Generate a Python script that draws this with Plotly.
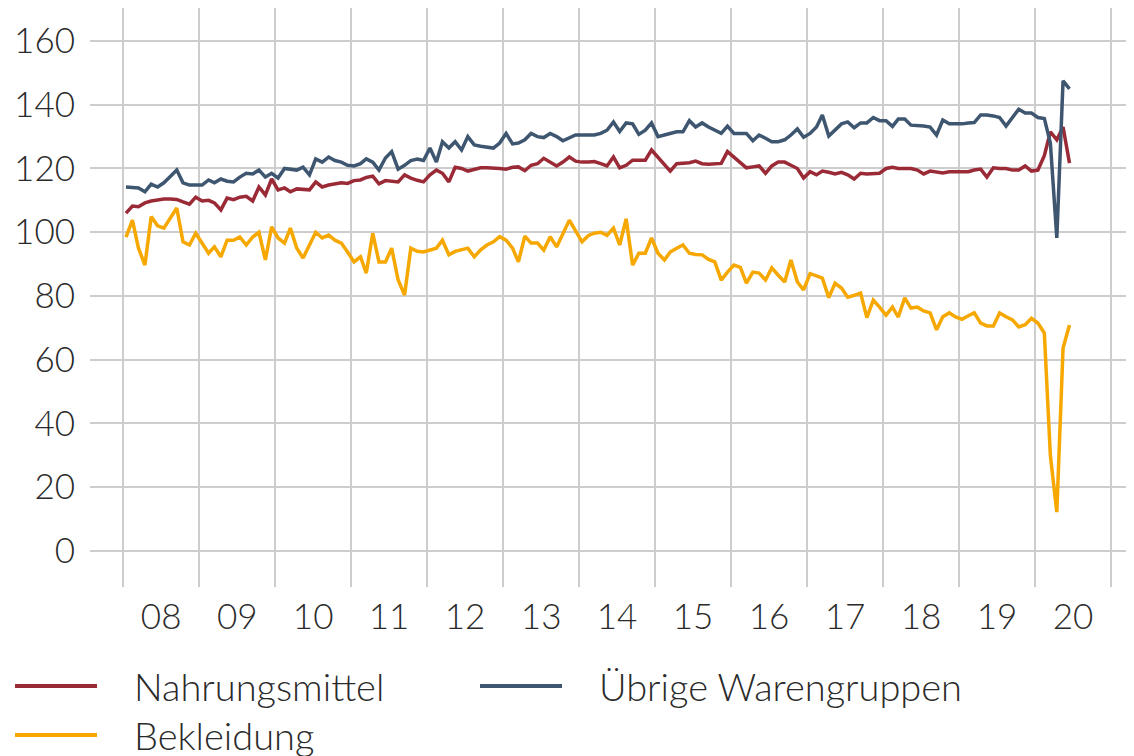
import plotly.graph_objects as go
import pandas as pd

# Monthly index values, Jan 2008 - Jun 2020
nahrungsmittel = [
    106, 108.2, 108, 109.2, 109.8, 110.2, 110.4, 110.4, 110.3, 109.5, 108.8, 111,
    109.8, 110, 109.2, 107, 110.7, 110.2, 111, 111.3, 109.8, 114.2, 111.7, 116.7,
    113.3, 113.9, 112.7, 113.6, 113.5, 113.3, 115.8, 114.2, 114.8, 115.2, 115.5, 115.3,
    116.2, 116.4, 117.2, 117.6, 115.2, 116.2, 116, 115.8, 118, 117, 116.3, 115.8,
    118, 119.5, 118.5, 115.8, 120.4, 120, 119.2, 119.8, 120.2, 120.2, 120.2, 120,
    119.8, 120.4, 120.5, 119.3, 121, 121.5, 123.2, 122, 120.8, 122, 123.6, 122.3,
    122, 122, 122.2, 121.5, 120.8, 123.6, 120.2, 121, 122.6, 122.6, 122.6, 125.8,
    123.5, 121, 119.2, 121.5, 121.7, 121.8, 122.3, 121.5, 121.3, 121.5, 121.6, 125.3,
    123.5, 121.6, 120.2, 120.5, 120.8, 118.5, 120.8, 122, 122, 121, 120, 117,
    119, 118, 119.2, 118.8, 118.3, 118.8, 118, 116.7, 118.5, 118.3, 118.3, 118.5,
    120, 120.4, 120, 120, 120, 119.5, 118.3, 119.2, 118.8, 118.6, 119, 119,
    119, 119, 119.5, 119.8, 117.3, 120.2, 120, 120, 119.5, 119.5, 120.8, 119.2,
    119.5, 124, 131.5, 129, 133, 121.7,
]
uebrige = [
    114.2, 114.0, 113.9, 112.7, 115.1, 114.2, 115.5, 117.5, 119.5, 115.5, 114.8, 114.8,
    114.8, 116.4, 115.5, 116.7, 116, 115.8, 117.3, 118.5, 118.3, 119.5, 117.3, 118.5,
    117, 120, 119.8, 119.5, 120.4, 118, 123, 122, 123.6, 122.5, 122, 121,
    120.8, 121.5, 123, 122, 119.5, 123.3, 125.3, 119.8, 121, 122.5, 123, 122.5,
    126.4, 122, 128.4, 126.4, 128.4, 125.8, 130, 127.4, 127, 126.7, 126.4, 128,
    131, 127.7, 128, 129, 131, 130, 129.7, 131, 130, 128.7, 129.5, 130.5,
    130.5, 130.5, 130.5, 131, 132, 134.6, 131.6, 134.3, 134, 130.7, 132, 134.3,
    130, 130.5, 131, 131.5, 131.5, 135, 133, 134.3, 133, 132, 131, 133.3,
    131, 131, 131, 128.7, 130.5, 129.5, 128.4, 128.4, 129, 130.5, 132.4, 129.8,
    131, 133, 136.8, 130.2, 132, 134, 134.6, 132.8, 134.3, 134.3, 136, 135,
    135, 133.2, 135.5, 135.5, 133.6, 133.5, 133.3, 133, 130.5, 135.2, 134, 134,
    134, 134.3, 134.4, 136.8, 136.8, 136.5, 136, 133.3, 136, 138.6, 137.4, 137.4,
    136, 135.7, 128, 98.2, 147.5, 145,
]
bekleidung = [
    98.5, 103.8, 95, 89.7, 104.9, 102, 101.3, 104.5, 107.6, 97, 96, 99.7,
    96.5, 93.4, 95.4, 92.3, 97.5, 97.5, 98.5, 96, 98.5, 100, 91.3, 101.7,
    98.2, 96.6, 101.3, 95, 91.9, 96, 100, 98.2, 99.1, 97.5, 96.6, 93.8,
    90.7, 92.3, 87.2, 99.7, 90.7, 90.7, 95, 85, 80.3, 95, 94, 93.8,
    94.4, 95, 97.5, 92.9, 94, 94.4, 95, 92.3, 94.5, 96, 97, 98.6,
    97.5, 95, 90.7, 98.8, 96.6, 96.6, 94.4, 98.6, 95.4, 99.5, 103.8, 100.4,
    97, 99, 99.7, 100, 99, 101.3, 96, 104.2, 89.7, 93.4, 93.4, 98.2,
    93.4, 91.3, 93.8, 95, 96, 93.4, 93, 92.9, 91.5, 90.7, 85, 87.5,
    89.7, 89, 84, 87.5, 87.2, 85, 88.8, 86.5, 84.4, 91.3, 84.4, 81.9,
    87, 86.3, 85.6, 79.5, 84, 82.5, 79.6, 80.2, 80.9, 73.2, 78.7, 76.5,
    74, 76.5, 73.4, 79.4, 76.2, 76.5, 75.3, 74.7, 69.4, 73.5, 74.7, 73.4,
    72.7, 73.8, 74.7, 71.5, 70.6, 70.6, 74.7, 73.5, 72.5, 70.3, 71, 73,
    71.5, 68.4, 30, 12.2, 63.7, 70.9,
]
y_ticks = [0, 20, 40, 60, 80, 100, 120, 140, 160]

dates = pd.date_range("2008-01-01", periods=len(nahrungsmittel), freq="MS") + pd.Timedelta(days=14)

RED = "#9b2a37"
BLUE = "#3e5670"
YELLOW = "#f6a800"
GRID = "#cdcdcd"
TEXT = "#2a2a2a"
FONT = "Lato"
FSIZE = 35
LSIZE = 38

fig = go.Figure()
for name, vals, col in [("Bekleidung", bekleidung, YELLOW),
                        ("Nahrungsmittel", nahrungsmittel, RED),
                        ("Übrige Warengruppen", uebrige, BLUE)]:
    fig.add_trace(go.Scatter(x=dates, y=vals, mode="lines", name=name,
                             line=dict(color=col, width=3.5), showlegend=False))

OFF = 8  # page body margin
W, H = 1134 - OFF, 756 - OFF
L, R, T, B = 90 - OFF, 0, 0, 756 - 587
pw, ph = W - L - R, H - T - B

def px(x):
    return (x - OFF - L) / pw

def py(y):
    return (H - B - (y - OFF)) / ph

# manual legend
legend_items = [("Nahrungsmittel", RED, 15, 686), ("Übrige Warengruppen", BLUE, 480, 686),
                ("Bekleidung", YELLOW, 15, 735)]
for label, col, x0, y0 in legend_items:
    fig.add_shape(type="line", xref="paper", yref="paper",
                  x0=px(x0), x1=px(x0 + 82), y0=py(y0), y1=py(y0),
                  line=dict(color=col, width=4))
    fig.add_annotation(xref="paper", yref="paper", x=px(x0 + 117), y=py(y0),
                       text=label, showarrow=False, xanchor="left", yanchor="middle",
                       font=dict(family=FONT, size=LSIZE, color=TEXT, weight=300))

fig.update_layout(
    width=W, height=H,
    margin=dict(l=L, r=R, t=T, b=B),
    plot_bgcolor="white", paper_bgcolor="white",
    font=dict(family=FONT, size=FSIZE, color=TEXT, weight=300),
)
fig.update_xaxes(
    type="date",
    range=["2007-07-26", "2021-04-21"],
    tick0="2008-01-01", dtick="M12", tickformat="%y",
    ticklabelmode="period",
    showgrid=True, gridcolor=GRID, gridwidth=2,
    zeroline=False, showline=False, ticks="",
    ticklabelstandoff=6,
)
fig.update_yaxes(
    range=[-11.3, 170.35],
    tickvals=y_ticks,
    showgrid=True, gridcolor=GRID, gridwidth=2,
    zeroline=False, showline=False, ticks="",
    ticklabelstandoff=14,
)

fig.write_html("out.html")
